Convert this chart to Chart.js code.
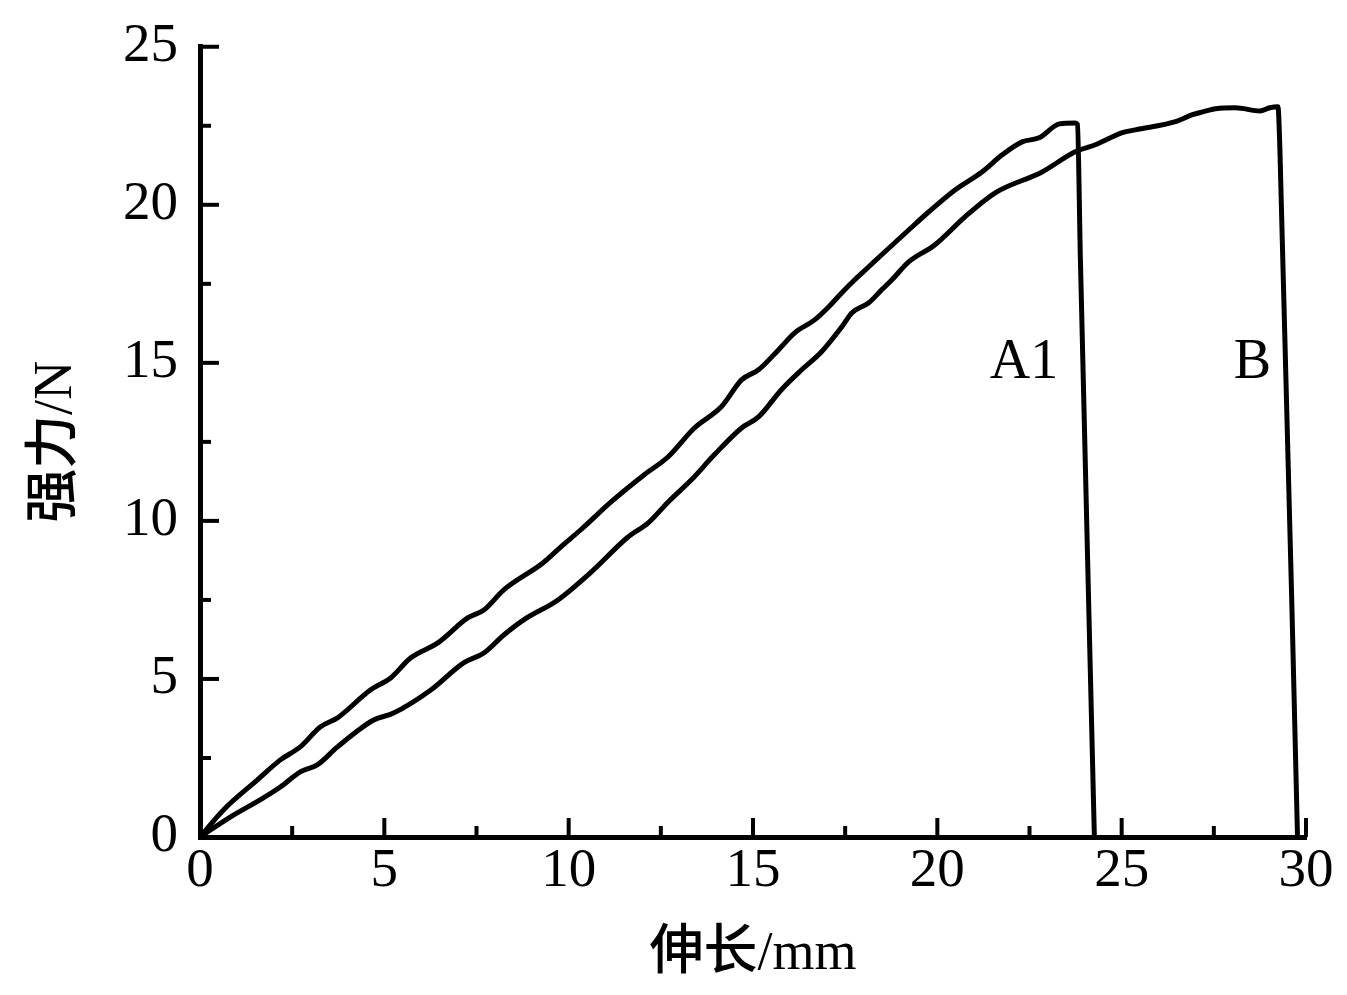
<!DOCTYPE html>
<html>
<head>
<meta charset="utf-8">
<script src="https://cdn.jsdelivr.net/npm/chart.js@4.4.1/dist/chart.umd.min.js"></script>
<style>
    html, body { margin: 0; padding: 0; background: #fff; }
    #wrap { width: 1347px; height: 995px; }
</style>
</head>
<body>
<div id="wrap"><canvas id="chart"></canvas></div>
<script>
// 伸长/mm vs 强力/N
const xA1 = [0, 0.63, 1.55, 2.18, 2.72, 3.26, 3.73, 4.62, 5.17, 5.71, 6.45, 7.26, 7.70, 8.24, 9.30, 9.79, 10.33, 11.15, 12.05, 12.70, 13.41, 14.14, 14.69, 15.15, 15.69, 16.13, 16.67, 17.05, 17.41, 17.76, 18.14, 18.49, 19.23, 19.77, 20.48, 21.21, 21.76, 22.30, 22.76, 23.31, 23.74, 23.80, 23.88, 24.26];
const yA1 = [0, 0.85, 1.80, 2.44, 2.85, 3.48, 3.77, 4.65, 5.03, 5.66, 6.14, 6.93, 7.18, 7.82, 8.67, 9.18, 9.72, 10.60, 11.46, 12.03, 12.94, 13.61, 14.46, 14.78, 15.41, 15.95, 16.36, 16.77, 17.22, 17.63, 18.04, 18.42, 19.21, 19.78, 20.47, 21.04, 21.58, 21.99, 22.12, 22.56, 22.59, 22.55, 18.3, 0];

const xB = [0, 0.82, 1.71, 2.18, 2.72, 3.18, 3.73, 4.71, 5.25, 6.26, 7.15, 7.70, 8.24, 8.78, 9.71, 10.60, 11.61, 12.16, 12.70, 13.33, 13.95, 14.69, 15.15, 15.77, 16.32, 16.86, 17.41, 17.68, 18.14, 18.49, 18.77, 19.23, 19.93, 20.75, 21.57, 22.84, 23.74, 24.29, 25.02, 25.37, 26.46, 26.92, 27.20, 27.55, 28.09, 28.75, 29.02, 29.24, 29.29, 29.77];
const yB = [0, 0.63, 1.23, 1.58, 2.06, 2.28, 2.85, 3.70, 3.92, 4.65, 5.51, 5.82, 6.39, 6.87, 7.50, 8.37, 9.49, 9.94, 10.60, 11.30, 12.09, 12.94, 13.29, 14.15, 14.78, 15.35, 16.14, 16.58, 16.90, 17.31, 17.63, 18.20, 18.73, 19.62, 20.38, 21.04, 21.68, 21.90, 22.28, 22.37, 22.63, 22.85, 22.94, 23.04, 23.07, 22.97, 23.07, 23.10, 21.84, 0];

const xTicks = [0, 5, 10, 15, 20, 25, 30];
const yTicks = [0, 5, 10, 15, 20, 25];

// curve names written next to the drops
const curveLabels = [
    { text: 'A1', x: 22.35, y: 15.0 },
    { text: 'B', x: 28.55, y: 15.0 }
];

const serif = '"Liberation Serif", "Times New Roman", serif';
const titleFont = { family: '"Liberation Serif", "Noto Sans CJK SC", serif', size: 54, weight: 500 };

function toPoints(xs, ys) {
    return xs.map((x, i) => ({ x: x, y: ys[i] }));
}

// ticks point into the plot, majors plus one minor between
const innerTicks = {
    id: 'innerTicks',
    afterDraw(chart) {
        const ctx = chart.ctx;
        const xs = chart.scales.x;
        const ys = chart.scales.y;
        const area = chart.chartArea;
        ctx.save();
        ctx.strokeStyle = '#000';
        ctx.lineWidth = 4;
        ctx.lineCap = 'butt';
        for (let v = 0; v <= 30; v += 2.5) {
            const px = xs.getPixelForValue(v);
            const len = v % 5 === 0 ? 19 : 11;
            ctx.beginPath();
            ctx.moveTo(px, area.bottom);
            ctx.lineTo(px, area.bottom - len);
            ctx.stroke();
        }
        for (let v = 0; v <= 25; v += 2.5) {
            const py = ys.getPixelForValue(v);
            const len = v % 5 === 0 ? 19 : 11;
            ctx.beginPath();
            ctx.moveTo(area.left, py);
            ctx.lineTo(area.left + len, py);
            ctx.stroke();
        }
        ctx.fillStyle = '#000';
        ctx.font = '56px ' + serif;
        ctx.textAlign = 'center';
        ctx.textBaseline = 'middle';
        curveLabels.forEach(l => {
            ctx.fillText(l.text, xs.getPixelForValue(l.x), ys.getPixelForValue(l.y));
        });
        ctx.restore();
    }
};

const lineStyle = {
    showLine: true,
    borderColor: '#000',
    borderWidth: 5,
    pointRadius: 0,
    cubicInterpolationMode: 'monotone',
    borderJoinStyle: 'round',
    fill: false
};

new Chart(document.getElementById('chart'), {
    type: 'scatter',
    data: {
        datasets: [
            Object.assign({ label: 'A1', data: toPoints(xA1, yA1) }, lineStyle),
            Object.assign({ label: 'B', data: toPoints(xB, yB) }, lineStyle)
        ]
    },
    options: {
        responsive: true,
        maintainAspectRatio: false,
        animation: false,
        layout: { padding: { top: 39, right: 41, bottom: 0, left: 0 } },
        plugins: {
            legend: { display: false },
            tooltip: { enabled: false }
        },
        scales: {
            x: {
                type: 'linear',
                min: 0,
                max: 30,
                afterBuildTicks: scale => { scale.ticks = xTicks.map(v => ({ value: v })); },
                afterFit: scale => { scale.height = 158; },
                grid: { display: false, drawTicks: false },
                border: { display: true, color: '#000', width: 5 },
                ticks: { color: '#000', padding: 2, font: { family: serif, size: 55 } },
                title: { display: true, text: '伸长/mm', color: '#000', font: titleFont, padding: { top: 0, bottom: 8 } }
            },
            y: {
                type: 'linear',
                min: 0,
                max: 25,
                afterBuildTicks: scale => { scale.ticks = yTicks.map(v => ({ value: v })); },
                afterFit: scale => { scale.width = 200; },
                grid: { display: false, drawTicks: false },
                border: { display: true, color: '#000', width: 5 },
                ticks: { color: '#000', padding: 22, font: { family: serif, size: 55, lineHeight: 0.9 } },
                title: { display: true, text: '强力/N', color: '#000', font: titleFont, padding: { top: 24, bottom: 0 } }
            }
        }
    },
    plugins: [innerTicks]
});
</script>
</body>
</html>
